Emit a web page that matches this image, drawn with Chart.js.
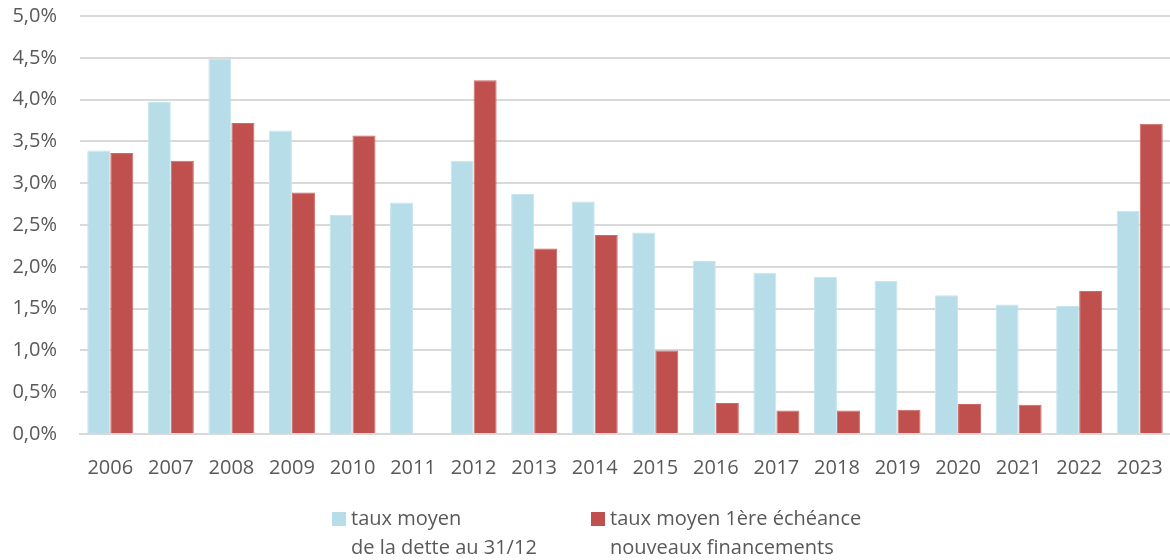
<!DOCTYPE html>
<html>
<head>
  <title>Taux moyens</title>
  <script src="https://cdn.jsdelivr.net/npm/chart.js"></script>
  <style>
    body { margin: 0; background: #fff; }
  </style>
</head>
<body>
  <canvas id="tauxChart" width="1170" height="560"></canvas>

  <script>
    const years = ['2006', '2007', '2008', '2009', '2010', '2011', '2012', '2013', '2014',
      '2015', '2016', '2017', '2018', '2019', '2020', '2021', '2022', '2023'];
    const tauxDette = [3.39, 3.97, 4.49, 3.63, 2.62, 2.77, 3.27, 2.87, 2.78,
      2.41, 2.07, 1.93, 1.88, 1.83, 1.66, 1.55, 1.53, 2.67];
    const tauxNouveaux = [3.36, 3.27, 3.72, 2.89, 3.57, null, 4.23, 2.22, 2.38,
      1.00, 0.37, 0.28, 0.28, 0.29, 0.36, 0.35, 1.71, 3.71];
    const labelDette = ['taux moyen', 'de la dette au 31/12'];
    const labelNouveaux = ['taux moyen 1ère échéance', 'nouveaux financements'];

    const textColor = '#595959';
    const font = "'Open Sans', sans-serif";

    // legend drawn by hand because the labels are on two lines
    const twoLineLegend = {
      id: 'twoLineLegend',
      afterDraw(chart) {
        const ctx = chart.ctx;
        const spots = [332, 591];
        ctx.save();
        ctx.font = '20px ' + font;
        ctx.textBaseline = 'middle';
        chart.data.datasets.forEach((ds, i) => {
          const x = spots[i];
          ctx.fillStyle = ds.backgroundColor;
          ctx.fillRect(x, 512, 14, 14);
          ctx.fillStyle = textColor;
          ds.legendLines.forEach((line, k) => {
            ctx.fillText(line, x + 19, 519 + k * 29);
          });
        });
        ctx.restore();
      }
    };

    const ctx = document.getElementById('tauxChart').getContext('2d');

    new Chart(ctx, {
      type: 'bar',
      data: {
        labels: years,
        datasets: [{
          label: labelDette.join(' '),
          legendLines: labelDette,
          data: tauxDette,
          backgroundColor: '#b7dde8',
          borderColor: '#c6e6ee',
          borderWidth: 1
        }, {
          label: labelNouveaux.join(' '),
          legendLines: labelNouveaux,
          data: tauxNouveaux,
          backgroundColor: '#c0504d',
          borderColor: '#cc6a67',
          borderWidth: 1
        }]
      },
      options: {
        responsive: false,
        animation: false,
        layout: { padding: 0 },
        datasets: {
          bar: { categoryPercentage: 0.76, barPercentage: 1.0 }
        },
        plugins: {
          legend: { display: false },
          tooltip: { enabled: false }
        },
        scales: {
          x: {
            grid: { display: false },
            border: { color: '#d9d9d9', width: 2 },
            ticks: {
              color: textColor,
              font: { family: font, size: 20 },
              padding: 14,
              maxRotation: 0
            },
            afterFit(scale) {
              scale.height = 126;
              scale.paddingLeft = 0;
              scale.paddingRight = 0;
            }
          },
          y: {
            min: 0,
            max: 5,
            grid: { color: '#d9d9d9', lineWidth: 2, drawTicks: false },
            border: { display: false },
            ticks: {
              stepSize: 0.5,
              color: textColor,
              font: { family: font, size: 20 },
              padding: 23,
              callback: v => v.toFixed(1).replace('.', ',') + '%'
            },
            afterFit(scale) {
              scale.width = 80;
              scale.paddingTop = 16;
              scale.paddingBottom = 0;
            }
          }
        }
      },
      plugins: [twoLineLegend]
    });
  </script>
</body>
</html>
